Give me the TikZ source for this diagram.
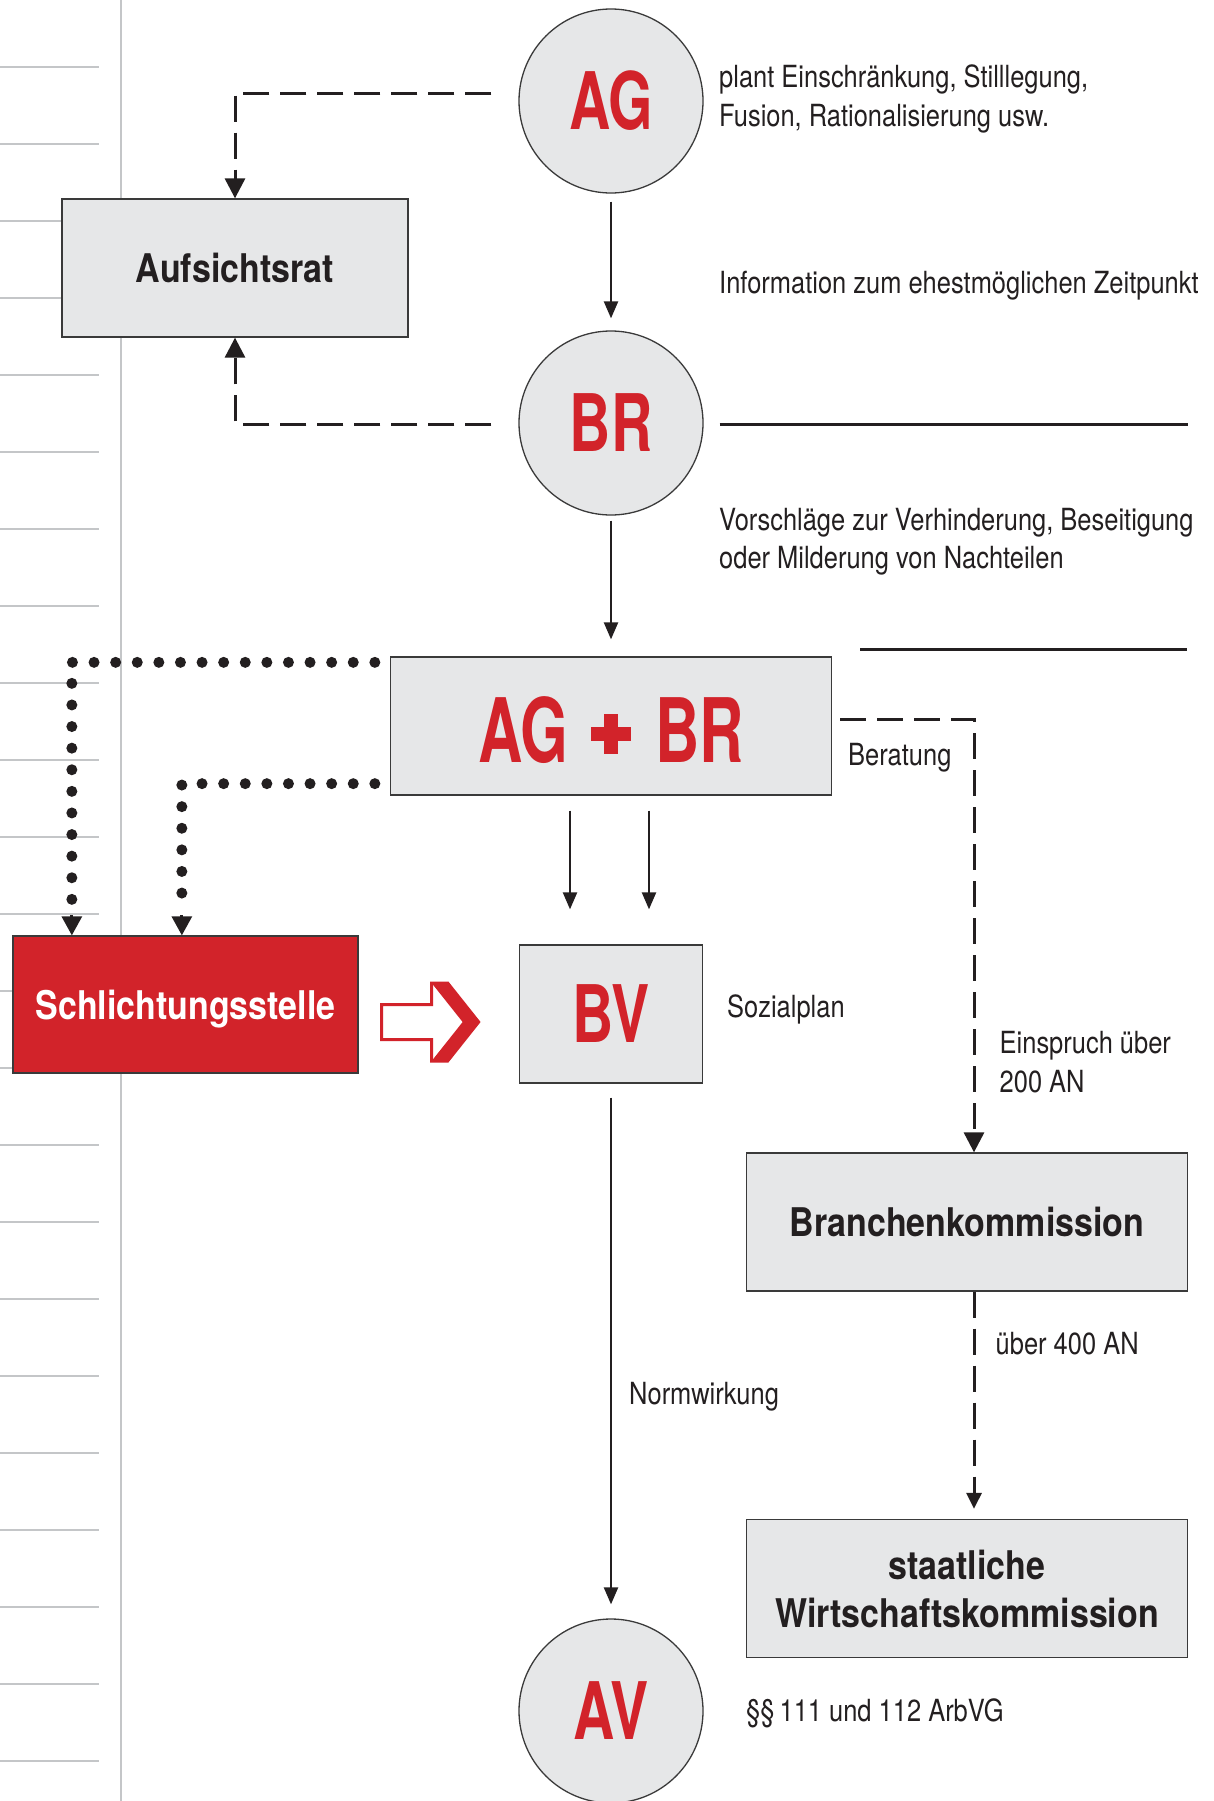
\documentclass[tikz,border=0pt]{standalone}
\usepackage{fontspec}
\setmainfont{TeX Gyre Heros}[FakeStretch=0.835]
\newfontfamily\bfcond{TeX Gyre Heros}[FakeStretch=0.86]
\newfontfamily\bigfont{TeX Gyre Heros}[FakeStretch=0.72]
\newfontfamily\bigfontb{TeX Gyre Heros}[FakeStretch=0.69]
\usetikzlibrary{arrows.meta,calc}
\definecolor{myred}{HTML}{D2232A}
\definecolor{boxgray}{HTML}{E6E7E8}
\definecolor{edgegray}{HTML}{3A3A3A}
\definecolor{inkc}{HTML}{231F20}
\definecolor{ruleg}{HTML}{C4C6C8}
\newcommand{\bigplus}{\rlap{\rule[22pt]{40pt}{14pt}}\hspace{13pt}\rule[9pt]{14pt}{40pt}\hspace{13pt}}
\begin{document}
\begin{tikzpicture}[x=1pt,y=-1pt,
  circ/.style={circle, draw=edgegray, line width=1.3pt, fill=boxgray, minimum size=184pt, inner sep=0pt, text=myred, font=\bigfont\bfseries\fontsize{79.4}{80}\selectfont},
  gbox/.style={rectangle, draw=edgegray, line width=1.3pt, fill=boxgray, inner sep=0pt, text=inkc, align=center, font=\bfcond\bfseries\fontsize{39.5}{48}\selectfont},
  bigbox/.style={rectangle, draw=edgegray, line width=1.3pt, fill=boxgray, inner sep=0pt, text=myred, font=\bigfont\bfseries\fontsize{79.4}{80}\selectfont},
  lbl/.style={anchor=base west, inner sep=0pt, text=inkc, font=\fontsize{30.5}{38}\selectfont},
  solidarrow/.style={draw=inkc, line width=2.3pt, -{Triangle[length=17pt,width=14pt]}},
  dasharrow/.style={draw=inkc, line width=3pt, dash pattern=on 26pt off 11pt, -{Triangle[length=20pt,width=20pt]}},
  dotline/.style={draw=inkc, line width=11pt, line cap=round, dash pattern=on 0pt off 21.6pt},
  dotarrow/.style={draw=inkc, line width=3pt, -{Triangle[length=19pt,width=20pt]}},
  sepline/.style={draw=inkc, line width=3pt}
]
\useasboundingbox (0,0) rectangle (1214,1801);
\fill[white] (0,0) rectangle (1214,1801);

% margin rules
\foreach \k in {0,...,22}
  \draw[ruleg, line width=2pt] (0,{67+77*\k}) -- (99,{67+77*\k});
\draw[ruleg, line width=2.5pt] (121,0) -- (121,1801);

% nodes
\node[circ] (AG) at (611,101) {AG};
\node[circ] (BR) at (611,423) {BR};
\node[circ] (AV) at (611,1711) {AV};
\node[gbox, minimum width=346pt, minimum height=138pt] (Auf) at (235,268) {Aufsichtsrat};
\node[bigbox, minimum width=441pt, minimum height=138pt, text height=73pt, text depth=0pt,
      font=\bigfontb\bfseries\fontsize{89}{90}\selectfont] (ABR) at (611,726) {AG\hspace{23pt}\bigplus\hspace{24pt}BR};
\node[gbox, fill=myred, text=white, text depth=0pt, minimum width=345pt, minimum height=137pt] (Schl) at (185.5,1004.5) {Schlichtungsstelle};
\node[bigbox, minimum width=183pt, minimum height=138pt] (BV) at (611,1014) {BV};
\node[gbox, minimum width=441pt, minimum height=138pt] (Bra) at (967,1222) {Branchenkommission};
\node[gbox, minimum width=441pt, minimum height=138pt] (Sta) at (967,1588.5) {staatliche\\Wirtschaftskommission};

% labels
\node[lbl] (t1) at (719,88) {plant Einschränkung, Stilllegung,};
\node[lbl] (t2) at (719,126) {Fusion, Rationalisierung usw.};
\node[lbl] (t3) at (719,293) {Information zum ehestmöglichen Zeitpunkt};
\node[lbl] (t4) at (719,530) {Vorschläge zur Verhinderung, Beseitigung};
\node[lbl] (t5) at (719,568) {oder Milderung von Nachteilen};
\node[lbl] (t6) at (848,765) {Beratung};
\node[lbl] (t7) at (727,1017) {Sozialplan};
\node[lbl] (t8) at (999.5,1053) {Einspruch über};
\node[lbl] (t9) at (999.5,1092) {200 AN};
\node[lbl] (t10) at (995.5,1354) {über 400 AN};
\node[lbl] (t11) at (629,1404) {Normwirkung};
\node[lbl] (t12) at (746,1721) {§§\,111 und 112 ArbVG};

% separator lines
\draw[sepline] ($(BR.east)+(16,1)$) -- (1188,424);
\draw[sepline] (860,649) -- (1187,649);

% solid arrows
\draw[solidarrow] ($(AG.south)+(0,8)$) -- ($(BR.north)+(0,-12)$);
\draw[solidarrow] ($(BR.south)+(0,5)$) -- ($(ABR.north)+(0,-17)$);
\draw[solidarrow] ($(ABR.south)+(-41,15)$) -- ($(BV.north)+(-41,-35)$);
\draw[solidarrow] ($(ABR.south)+(38,15)$) -- ($(BV.north)+(38,-35)$);
\draw[solidarrow] ($(BV.south)+(0,14)$) -- ($(AV.north)+(0,-14)$);

% dashed arrows
\draw[dasharrow] ($(AG.west)+(-27,-8)$) -| (Auf.north);
\draw[dasharrow] ($(BR.west)+(-27,1)$) -| (Auf.south);
\draw[dasharrow] ($(ABR.east)+(8,-7)$) -| ($(Bra.north)+(7,0)$);
\draw[dasharrow, -{Triangle[length=16pt,width=15pt]}] ($(Bra.south)+(7,0)$) -- ($(Sta.north)+(7,-10)$);

% dotted arrows
\draw[dotline] ($(ABR.north west)+(-15,6)$) -| ($(Schl.north west)+(59.5,-34)$);
\draw[dotarrow] ($(Schl.north west)+(59.5,-20)$) -- ($(Schl.north west)+(59.5,0)$);
\draw[dotline] ($(ABR.south west)+(-15,-12)$) -| ($(Schl.north west)+(169.5,-34)$);
\draw[dotarrow] ($(Schl.north west)+(169.5,-20)$) -- ($(Schl.north west)+(169.5,0)$);

% hollow red arrow
\coordinate (ra) at ($(Schl.east)+(23,17.5)$);
\begin{scope}[shift={(ra)}]
  \filldraw[fill=white, draw=myred, line width=3pt, line join=miter]
    (0,-17.5) -- (50,-17.5) -- (50,-39) -- (66,-39) -- (97,0) -- (66,39) -- (50,39) -- (50,17.5) -- (0,17.5) -- cycle;
  \fill[myred] (50,-39) -- (66,-39) -- (97,0) -- (66,39) -- (50,39) -- (81,0) -- cycle;
\end{scope}
\end{tikzpicture}
\end{document}
